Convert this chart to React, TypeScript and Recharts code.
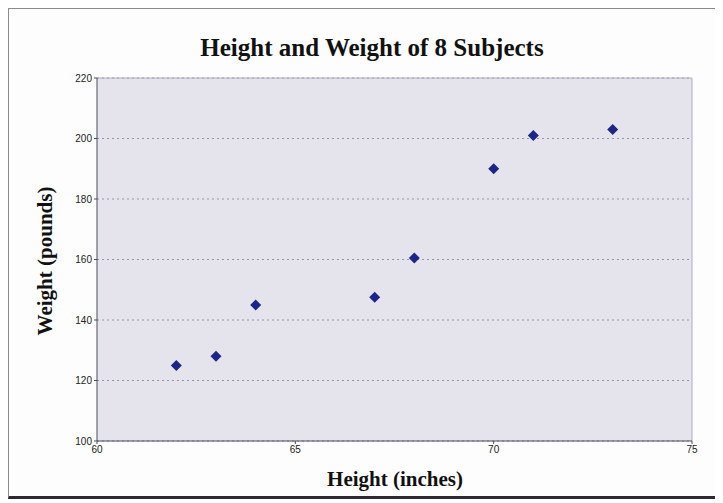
import React from "react";
import {
  ScatterChart,
  Scatter,
  XAxis,
  YAxis,
  CartesianGrid,
  ReferenceLine,
} from "recharts";

const heights = [62, 63, 64, 67, 68, 70, 71, 73];
const weights = [125, 128, 145, 147.5, 160.5, 190, 201, 203];
const xTicks = [60, 65, 70, 75];
const yTicks = [100, 120, 140, 160, 180, 200, 220];
const title = "Height and Weight of 8 Subjects";
const xLabel = "Height (inches)";
const yLabel = "Weight (pounds)";

const data = heights.map((h, i) => ({ h, w: weights[i] }));

const Diamond = (props: any) => {
  const { cx, cy } = props;
  const r = 5.5;
  return (
    <polygon
      points={`${cx},${cy - r} ${cx + r},${cy} ${cx},${cy + r} ${cx - r},${cy}`}
      fill="#1c2689"
    />
  );
};

const serif = "'Liberation Serif', 'Times New Roman', serif";
const sans = "'Liberation Sans', Arial, sans-serif";

export default function App() {
  return (
    <div
      style={{
        width: 710,
        height: 487,
        border: "1px solid #8a8a94",
        borderBottom: "3px solid #2a2a34",
        background: "#fdfdfd",
        position: "relative",
      }}
    >
      <ScatterChart
        width={710}
        height={487}
        margin={{ top: 69, right: 27, bottom: 25, left: 48 }}
      >
        <CartesianGrid
          vertical={false}
          fill="#e5e4ed"
          stroke="#9692b2"
          strokeDasharray="2 3"
        />
        <ReferenceLine y={220} stroke="#aeacc2" strokeWidth={1} />
        <ReferenceLine x={75} stroke="#aeacc2" strokeWidth={1} />
        <XAxis
          type="number"
          dataKey="h"
          domain={[60, 75]}
          ticks={xTicks}
          height={30}
          stroke="#4a4a5e"
          tickSize={3}
          tick={{ fontSize: 10, fill: "#222", fontFamily: sans }}
        />
        <YAxis
          type="number"
          dataKey="w"
          domain={[100, 220]}
          ticks={yTicks}
          width={40}
          stroke="#4a4a5e"
          tickSize={3}
          tick={{ fontSize: 10, fill: "#222", fontFamily: sans }}
        />
        <Scatter data={data} shape={Diamond} isAnimationActive={false} />
        <text
          x={363}
          y={47}
          textAnchor="middle"
          fontFamily={serif}
          fontWeight="bold"
          fontSize={25}
          fill="#111"
        >
          {title}
        </text>
        <text
          x={386}
          y={477}
          textAnchor="middle"
          fontFamily={serif}
          fontWeight="bold"
          fontSize={21}
          fill="#111"
        >
          {xLabel}
        </text>
        <text
          x={0}
          y={0}
          transform="translate(43,252) rotate(-90)"
          textAnchor="middle"
          fontFamily={serif}
          fontWeight="bold"
          fontSize={21}
          fill="#111"
        >
          {yLabel}
        </text>
      </ScatterChart>
    </div>
  );
}
